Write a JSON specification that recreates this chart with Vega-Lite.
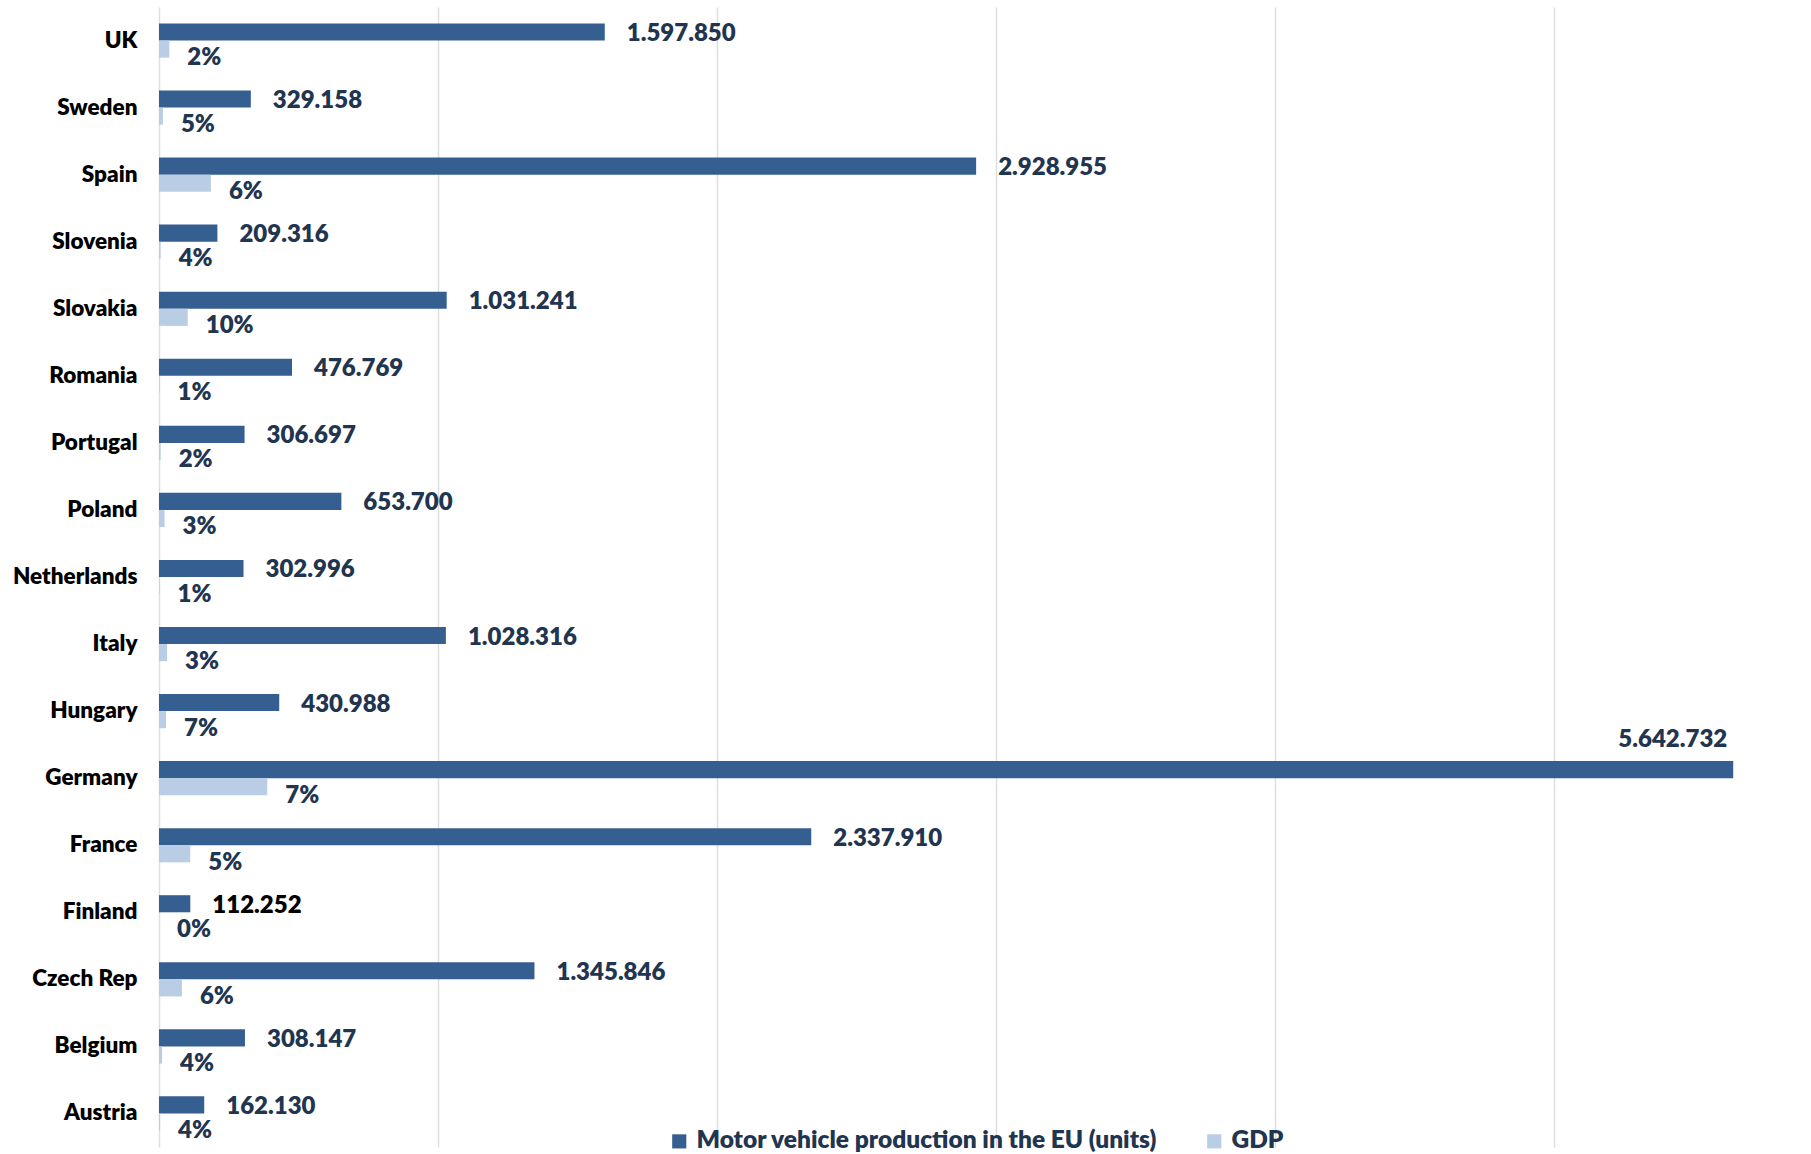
{
  "$schema": "https://vega.github.io/schema/vega-lite/v6.json",
  "width": 1646,
  "height": 1140,
  "autosize": {"type": "none"},
  "padding": {"left": 159, "top": 7, "right": 0, "bottom": 7},
  "background": "white",
  "config": {
    "view": {"stroke": null},
    "font": "Lato",
    "locale": {"number": {"decimal": ",", "thousands": ".", "grouping": [3], "currency": ["", " €"]}}
  },
  "data": {
    "values": [
      {"country": "UK", "series": "Motor vehicle production in the EU (units)", "value": 1597850},
      {"country": "UK", "series": "GDP", "value": 37000, "share": 0.02},
      {"country": "Sweden", "series": "Motor vehicle production in the EU (units)", "value": 329158},
      {"country": "Sweden", "series": "GDP", "value": 14000, "share": 0.05},
      {"country": "Spain", "series": "Motor vehicle production in the EU (units)", "value": 2928955},
      {"country": "Spain", "series": "GDP", "value": 186000, "share": 0.06},
      {"country": "Slovenia", "series": "Motor vehicle production in the EU (units)", "value": 209316},
      {"country": "Slovenia", "series": "GDP", "value": 6000, "share": 0.04},
      {"country": "Slovakia", "series": "Motor vehicle production in the EU (units)", "value": 1031241},
      {"country": "Slovakia", "series": "GDP", "value": 103000, "share": 0.10},
      {"country": "Romania", "series": "Motor vehicle production in the EU (units)", "value": 476769},
      {"country": "Romania", "series": "GDP", "value": 2000, "share": 0.01},
      {"country": "Portugal", "series": "Motor vehicle production in the EU (units)", "value": 306697},
      {"country": "Portugal", "series": "GDP", "value": 6000, "share": 0.02},
      {"country": "Poland", "series": "Motor vehicle production in the EU (units)", "value": 653700},
      {"country": "Poland", "series": "GDP", "value": 20000, "share": 0.03},
      {"country": "Netherlands", "series": "Motor vehicle production in the EU (units)", "value": 302996},
      {"country": "Netherlands", "series": "GDP", "value": 2000, "share": 0.01},
      {"country": "Italy", "series": "Motor vehicle production in the EU (units)", "value": 1028316},
      {"country": "Italy", "series": "GDP", "value": 29000, "share": 0.03},
      {"country": "Hungary", "series": "Motor vehicle production in the EU (units)", "value": 430988},
      {"country": "Hungary", "series": "GDP", "value": 25000, "share": 0.07},
      {"country": "Germany", "series": "Motor vehicle production in the EU (units)", "value": 5642732},
      {"country": "Germany", "series": "GDP", "value": 388000, "share": 0.07},
      {"country": "France", "series": "Motor vehicle production in the EU (units)", "value": 2337910},
      {"country": "France", "series": "GDP", "value": 112000, "share": 0.05},
      {"country": "Finland", "series": "Motor vehicle production in the EU (units)", "value": 112252},
      {"country": "Finland", "series": "GDP", "value": 0, "share": 0.0},
      {"country": "Czech Rep", "series": "Motor vehicle production in the EU (units)", "value": 1345846},
      {"country": "Czech Rep", "series": "GDP", "value": 82000, "share": 0.06},
      {"country": "Belgium", "series": "Motor vehicle production in the EU (units)", "value": 308147},
      {"country": "Belgium", "series": "GDP", "value": 11000, "share": 0.04},
      {"country": "Austria", "series": "Motor vehicle production in the EU (units)", "value": 162130},
      {"country": "Austria", "series": "GDP", "value": 4000, "share": 0.04}
    ]
  },
  "encoding": {
    "y": {
      "field": "country",
      "type": "nominal",
      "sort": ["UK", "Sweden", "Spain", "Slovenia", "Slovakia", "Romania", "Portugal", "Poland", "Netherlands", "Italy", "Hungary", "Germany", "France", "Finland", "Czech Rep", "Belgium", "Austria"],
      "scale": {"paddingInner": 0.49, "paddingOuter": 0.245},
      "axis": {
        "title": null,
        "domain": false,
        "ticks": false,
        "labelPadding": 22,
        "labelFont": "Lato",
        "labelFontSize": 22.5,
        "labelFontWeight": 800,
        "labelColor": "#000000"
      }
    },
    "yOffset": {
      "field": "series",
      "type": "nominal",
      "sort": ["Motor vehicle production in the EU (units)", "GDP"],
      "scale": {"paddingInner": 0, "paddingOuter": 0}
    },
    "x": {
      "field": "value",
      "type": "quantitative",
      "scale": {"domain": [0, 5900000], "nice": false},
      "axis": {
        "title": null,
        "labels": false,
        "ticks": false,
        "domain": false,
        "grid": true,
        "gridColor": "#DEDEDE",
        "gridWidth": 1.5,
        "values": [0, 1000000, 2000000, 3000000, 4000000, 5000000]
      }
    }
  },
  "layer": [
    {
      "mark": {"type": "bar"},
      "encoding": {
        "color": {
          "field": "series",
          "type": "nominal",
          "sort": ["Motor vehicle production in the EU (units)", "GDP"],
          "scale": {"domain": ["Motor vehicle production in the EU (units)", "GDP"], "range": ["#365F91", "#B9CDE5"]},
          "legend": {
            "title": null,
            "orient": "none",
            "direction": "horizontal",
            "legendX": 508,
            "legendY": 1122,
            "symbolType": "square",
            "symbolSize": 200,
            "symbolStrokeWidth": 0,
            "labelFont": "Lato",
            "labelFontSize": 24.5,
            "labelFontWeight": 800,
            "labelColor": "#1F3550",
            "labelOffset": 5,
            "labelLimit": 700,
            "columnPadding": 44
          }
        }
      }
    },
    {
      "transform": [
        {"filter": "datum.series !== 'GDP' && datum.country !== 'Germany'"}
      ],
      "mark": {"type": "text", "align": "left", "baseline": "middle", "dx": 22, "dy": 2, "font": "Lato", "fontSize": 24, "fontWeight": 800},
      "encoding": {
        "text": {"field": "value", "type": "quantitative", "format": ",d"},
        "color": {
          "condition": {"test": "datum.country === 'Finland'", "value": "#000000"},
          "value": "#1F3550"
        }
      }
    },
    {
      "transform": [
        {"filter": "datum.series !== 'GDP' && datum.country === 'Germany'"}
      ],
      "mark": {"type": "text", "align": "right", "baseline": "middle", "dx": -6, "dy": -30, "font": "Lato", "fontSize": 24, "fontWeight": 800, "color": "#1F3550"},
      "encoding": {
        "text": {"field": "value", "type": "quantitative", "format": ",d"}
      }
    },
    {
      "transform": [
        {"filter": "datum.series === 'GDP'"}
      ],
      "mark": {"type": "text", "align": "left", "baseline": "middle", "dx": 18, "dy": 9, "font": "Lato", "fontSize": 24, "fontWeight": 800, "color": "#1F3550"},
      "encoding": {
        "text": {"field": "share", "type": "quantitative", "format": ".0%"}
      }
    }
  ]
}
